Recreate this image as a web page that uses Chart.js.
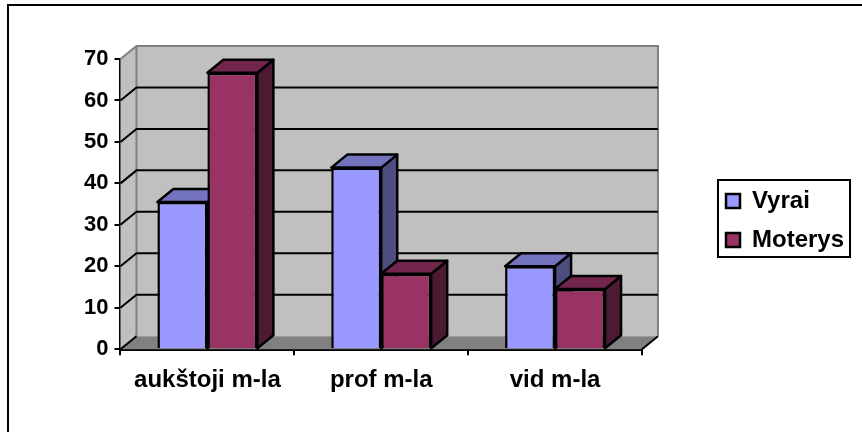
<!DOCTYPE html>
<html>
<head>
<meta charset="utf-8">
<script src="https://cdn.jsdelivr.net/npm/chart.js@4"></script>
<style>
  html, body { margin: 0; padding: 0; background: #fff; }
  #wrap { position: relative; width: 862px; height: 432px; }
</style>
</head>
<body>
<div id="wrap"><canvas id="chart" width="862" height="432"></canvas></div>
<script>
const categories = ['aukštoji m-la', 'prof m-la', 'vid m-la'];
const vyrai = [35.5, 43.8, 20];
const moterys = [66.7, 18.2, 14.5];
const yTicks = [0, 10, 20, 30, 40, 50, 60, 70];

// depth of the fake 3D box
const DX = 16;
const DY = 13;

const bold = { family: '"Liberation Sans", Arial, sans-serif', weight: 'bold', size: 24 };
const boldTicks = { family: '"Liberation Sans", Arial, sans-serif', weight: 'bold', size: 22 };

function poly(ctx, pts, fill, stroke, width) {
  ctx.beginPath();
  pts.forEach((p, i) => i ? ctx.lineTo(p[0], p[1]) : ctx.moveTo(p[0], p[1]));
  ctx.closePath();
  if (fill) { ctx.fillStyle = fill; ctx.fill(); }
  if (stroke) { ctx.strokeStyle = stroke; ctx.lineWidth = width; ctx.stroke(); }
}

// walls, floor, gridlines and the top/side faces of the bars
const walls = {
  id: 'walls',
  beforeDatasetsDraw(chart) {
    const { ctx, chartArea: a, scales: { y } } = chart;
    ctx.save();
    poly(ctx, [[a.left, a.top], [a.left + DX, a.top - DY], [a.left + DX, a.bottom - DY], [a.left, a.bottom]], '#c0c0c0');
    poly(ctx, [[a.left + DX, a.top - DY], [a.right + DX, a.top - DY], [a.right + DX, a.bottom - DY], [a.left + DX, a.bottom - DY]], '#c0c0c0');
    poly(ctx, [[a.left, a.bottom], [a.right, a.bottom], [a.right + DX, a.bottom - DY], [a.left + DX, a.bottom - DY]], '#808080');

    ctx.strokeStyle = '#808080';
    ctx.lineWidth = 2;
    ctx.beginPath();
    ctx.moveTo(a.left, a.top);
    ctx.lineTo(a.left + DX, a.top - DY);
    ctx.lineTo(a.right + DX, a.top - DY);
    ctx.lineTo(a.right + DX, a.bottom - DY);
    ctx.moveTo(a.left + DX, a.top - DY);
    ctx.lineTo(a.left + DX, a.bottom - DY);
    ctx.stroke();

    ctx.strokeStyle = '#000';
    ctx.beginPath();
    yTicks.forEach(v => {
      if (v === yTicks[yTicks.length - 1]) return;
      const py = y.getPixelForValue(v);
      ctx.moveTo(a.left, py);
      ctx.lineTo(a.left + DX, py - DY);
      if (v > 0) ctx.lineTo(a.right + DX, py - DY);
    });
    ctx.moveTo(a.right, a.bottom);
    ctx.lineTo(a.right + DX, a.bottom - DY);
    ctx.stroke();

    ctx.lineJoin = 'round';
    chart.data.datasets.forEach((ds, i) => {
      chart.getDatasetMeta(i).data.forEach(bar => {
        const { x, y: top, base, width } = bar.getProps(['x', 'y', 'base', 'width'], true);
        const l = x - width / 2;
        const r = x + width / 2;
        poly(ctx, [[r, top], [r + DX, top - DY], [r + DX, base - DY], [r, base]], ds.sideColor, '#000', 2.5);
        poly(ctx, [[l, top], [l + DX, top - DY], [r + DX, top - DY], [r, top]], ds.topColor, '#000', 2.5);
      });
    });
    ctx.restore();
  }
};

// outer frame, and the legend moved to its own boxed spot
const frame = {
  id: 'frame',
  afterLayout(chart) {
    const lg = chart.legend;
    lg.left = 711;
    lg.right = 850;
    lg.top = 174;
    lg.bottom = 300;
  },
  beforeDraw(chart) {
    const { ctx } = chart;
    ctx.save();
    ctx.strokeStyle = '#000';
    ctx.lineWidth = 2;
    ctx.strokeRect(8, 5, 900, 500);
    ctx.fillStyle = '#fff';
    ctx.fillRect(718, 180, 132, 77);
    ctx.strokeRect(718, 180, 132, 77);
    ctx.restore();
  }
};

new Chart(document.getElementById('chart'), {
  type: 'bar',
  data: {
    labels: categories,
    datasets: [
      { label: 'Vyrai', data: vyrai, backgroundColor: '#9999ff', topColor: '#7373bf', sideColor: '#4d4d80',
        borderColor: '#000', borderWidth: 2.5 },
      { label: 'Moterys', data: moterys, backgroundColor: '#993366', topColor: '#73264d', sideColor: '#4d1a33',
        borderColor: '#000', borderWidth: 2.5 }
    ]
  },
  plugins: [walls, frame],
  options: {
    responsive: false,
    animation: false,
    layout: { padding: { left: 78, right: 77, top: 59, bottom: 26 } },
    datasets: { bar: { barPercentage: 1, categoryPercentage: 0.575 } },
    plugins: {
      tooltip: { enabled: false },
      legend: {
        position: 'right',
        align: 'start',
        labels: { color: '#000', font: bold, boxWidth: 14, boxHeight: 14, padding: 15 }
      }
    },
    scales: {
      x: {
        ticks: { color: '#000', font: bold, padding: 11, maxRotation: 0 },
        grid: { drawOnChartArea: false, color: '#000', lineWidth: 2, tickLength: 6 },
        border: { color: '#000', width: 3 }
      },
      y: {
        min: 0,
        max: 70,
        ticks: { color: '#000', font: boldTicks, stepSize: 10, padding: 6 },
        grid: { drawOnChartArea: false, color: '#000', lineWidth: 2, tickLength: 6 },
        border: { color: '#000', width: 2 }
      }
    }
  }
});
</script>
</body>
</html>
